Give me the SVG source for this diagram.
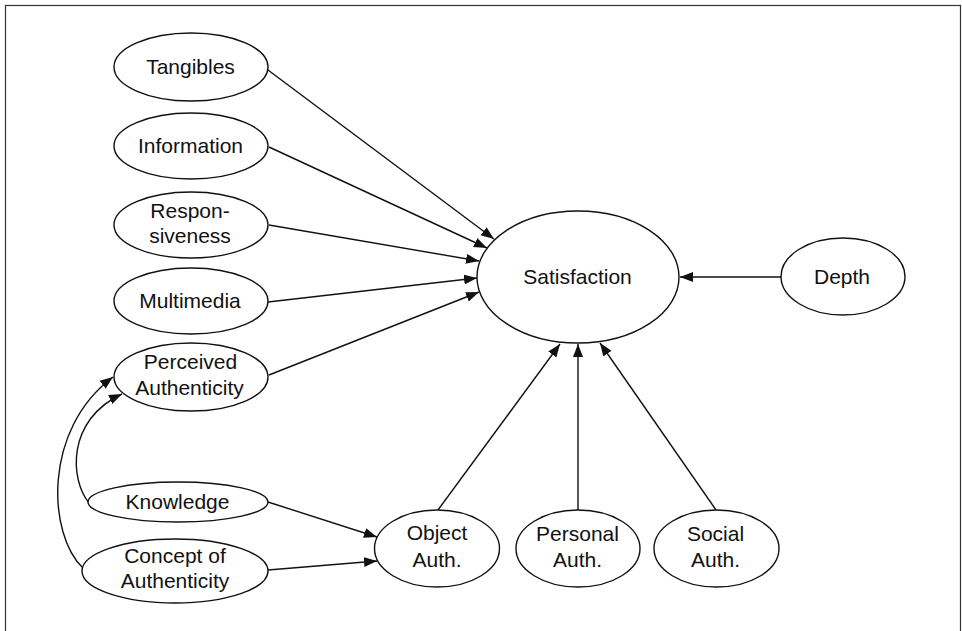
<svg xmlns="http://www.w3.org/2000/svg" width="962" height="631" viewBox="0 0 962 631">
<style>
.n ellipse{fill:#fff;stroke:#111;stroke-width:1.4}
.n text{font-family:"Liberation Sans",Arial,sans-serif;font-size:21px;fill:#111;text-anchor:middle}
.c path{fill:none;stroke:#111;stroke-width:1.4;marker-end:url(#ah)}
</style>
<defs>
<marker id="ah" markerUnits="userSpaceOnUse" markerWidth="14" markerHeight="12" viewBox="0 0 14 12" refX="13" refY="6" orient="auto">
<path d="M0,1 L13,6 L0,11 z" fill="#111"/>
</marker>
</defs>
<rect x="5.5" y="5.5" width="955" height="640" fill="#fff" stroke="#333" stroke-width="1.2"/>
<g class="c">
<path d="M268,70 L494,239"/>
<path d="M269,147 L487,248"/>
<path d="M269,225 L479,261"/>
<path d="M268,302 L477,278"/>
<path d="M269,375 L479,292"/>
<path d="M781,277 L680,277"/>
<path d="M438,510 L560,344"/>
<path d="M578,510 L578,344"/>
<path d="M716,510 L600,343"/>
<path d="M268,502 L377,537"/>
<path d="M268,570 L377,561"/>
<path d="M89,503 C70,480 66,420 122,394"/>
<path d="M83,568 C48,535 42,430 113,377"/>
</g>
<g id="tangibles" class="n"><ellipse cx="191" cy="67" rx="77" ry="34"/><text x="190.5" y="74">Tangibles</text></g>
<g id="information" class="n"><ellipse cx="191" cy="146" rx="77" ry="33"/><text x="190.5" y="153">Information</text></g>
<g id="responsiveness" class="n"><ellipse cx="191" cy="225" rx="77" ry="33"/><text x="190" y="218">Respon-</text><text x="190" y="243">siveness</text></g>
<g id="multimedia" class="n"><ellipse cx="191" cy="301" rx="77" ry="33"/><text x="190" y="308">Multimedia</text></g>
<g id="perceived" class="n"><ellipse cx="191" cy="377" rx="77" ry="34"/><text x="190.5" y="369">Perceived</text><text x="189.5" y="395">Authenticity</text></g>
<g id="knowledge" class="n"><ellipse cx="178" cy="502" rx="90" ry="20"/><text x="177.5" y="509">Knowledge</text></g>
<g id="concept" class="n"><ellipse cx="175" cy="571" rx="93" ry="32"/><text x="175" y="563">Concept of</text><text x="175" y="588">Authenticity</text></g>
<g id="object" class="n"><ellipse cx="437" cy="548.5" rx="62.5" ry="38.5"/><text x="437" y="540">Object</text><text x="437" y="567">Auth.</text></g>
<g id="personal" class="n"><ellipse cx="578" cy="548.5" rx="62" ry="38.5"/><text x="577.5" y="541">Personal</text><text x="577.5" y="567">Auth.</text></g>
<g id="social" class="n"><ellipse cx="716.5" cy="548.5" rx="62.5" ry="38.5"/><text x="715.5" y="541">Social</text><text x="715.5" y="567">Auth.</text></g>
<g id="satisfaction" class="n"><ellipse cx="578" cy="277" rx="101" ry="66"/><text x="577.5" y="284">Satisfaction</text></g>
<g id="depth" class="n"><ellipse cx="843" cy="276.5" rx="62" ry="38.5"/><text x="842" y="284">Depth</text></g>
</svg>
